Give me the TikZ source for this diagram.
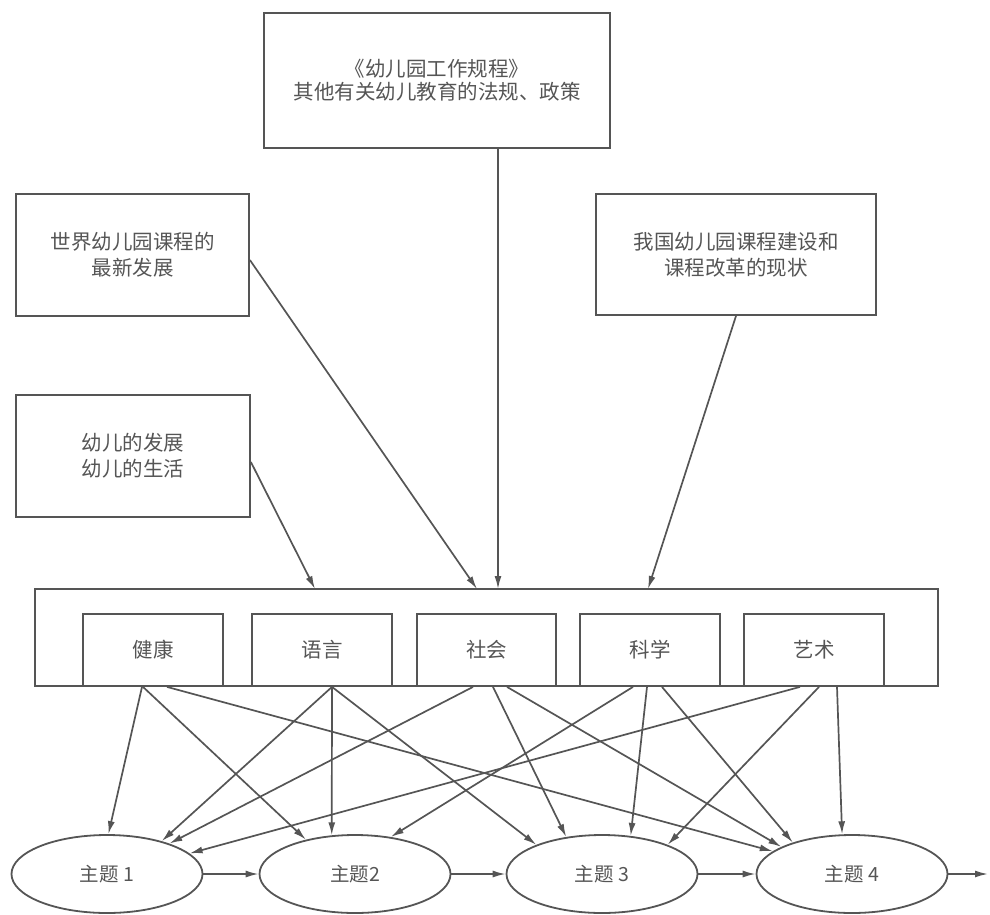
\documentclass[tikz,border=0pt]{standalone}
\usepackage{fontspec}
\setmainfont{Noto Sans CJK SC}
\usetikzlibrary{arrows.meta,shapes.geometric}
\definecolor{ink}{RGB}{85,85,85}
\begin{document}
\begin{tikzpicture}[x=1pt,y=-1pt,
        box/.style={draw=ink,line width=1.8pt,inner sep=0pt,align=center,text=ink,font=\fontsize{20.5}{26}\selectfont},
        theme/.style={ellipse,draw=ink,line width=1.8pt,inner sep=0pt,minimum width=191pt,minimum height=78pt,text=ink,font=\fontsize{19.5}{22}\selectfont},
        link/.style={->,draw=ink,line width=1.7pt},
        >={Latex[length=13pt,width=7pt]}]
        \useasboundingbox (0,0) rectangle (990,915);
        \node [box,minimum width=346pt,minimum height=135pt,font=\fontsize{20.5}{23}\selectfont] (r1) at (437,80.5) {《幼儿园工作规程》\\其他有关幼儿教育的法规、政策};
        \node [box,minimum width=233pt,minimum height=122pt] (r2) at (132.5,255) {世界幼儿园课程的\\最新发展};
        \node [box,minimum width=234pt,minimum height=122pt] (r3) at (133,456) {幼儿的发展\\幼儿的生活};
        \node [box,minimum width=280pt,minimum height=121pt] (r4) at (736,254.5) {我国幼儿园课程建设和\\课程改革的现状};
        \node [box,minimum width=903pt,minimum height=97pt] (f1) at (486.5,637.5) {};
        \node [box,minimum width=140pt,minimum height=72pt] (k1) at (153,650) {健康};
        \node [box,minimum width=140pt,minimum height=72pt] (k2) at (322,650) {语言};
        \node [box,minimum width=139pt,minimum height=72pt] (k3) at (486.5,650) {社会};
        \node [box,minimum width=140pt,minimum height=72pt] (k4) at (650,650) {科学};
        \node [box,minimum width=140pt,minimum height=72pt] (k5) at (814,650) {艺术};
        \node [theme] (t1) at (107,874) {主题 1};
        \node [theme] (t2) at (355,874) {主题2};
        \node [theme] (t3) at (602,874) {主题 3};
        \node [theme] (t4) at (852,874) {主题 4};
        \coordinate (c1) at (315,589);
        \coordinate (c2) at (477,589);
        \coordinate (c3) at (498,589);
        \coordinate (c4) at (648,589);
        \coordinate (e1) at (988,874);
        \draw [link] ([yshift=-6pt]r3.east) -- (c1);
        \draw [link] ([yshift=-5pt]r2.east) -- (c2);
        \draw [link] (r1.south -| c3) -- (c3);
        \draw [link] (r4.south) -- (c4);
        \draw [link] ([xshift=-11pt]k1.south) -- (t1.88);
        \draw [link] ([xshift=-10pt]k1.south) -- (t2.145);
        \draw [link] ([xshift=14pt]k1.south) -- (t4.164);
        \draw [link] ([xshift=10pt]k2.south) -- (t1.31);
        \draw [link] ([xshift=10pt]k2.south) -- (t2.121);
        \draw [link] ([xshift=10pt]k2.south) -- (t3.156);
        \draw [link] ([xshift=-13.5pt]k3.south) -- (t1.26);
        \draw [link] ([xshift=6.5pt]k3.south) -- (t3.134);
        \draw [link] ([xshift=20.5pt]k3.south) -- (t4.159);
        \draw [link] ([xshift=-17pt]k4.south) -- (t2.46);
        \draw [link] ([xshift=-3pt]k4.south) -- (t3.53);
        \draw [link] ([xshift=12pt]k4.south) -- (t4.152);
        \draw [link] ([xshift=-14pt]k5.south) -- (t1.14);
        \draw [link] ([xshift=5pt]k5.south) -- (t3.24);
        \draw [link] ([xshift=23pt]k5.south) -- (t4.104);
        \draw [link] (t1) -- (t2);
        \draw [link] (t2) -- (t3);
        \draw [link] (t3) -- (t4);
        \draw [link] (t4) -- (e1);
    \end{tikzpicture}
\end{document}
